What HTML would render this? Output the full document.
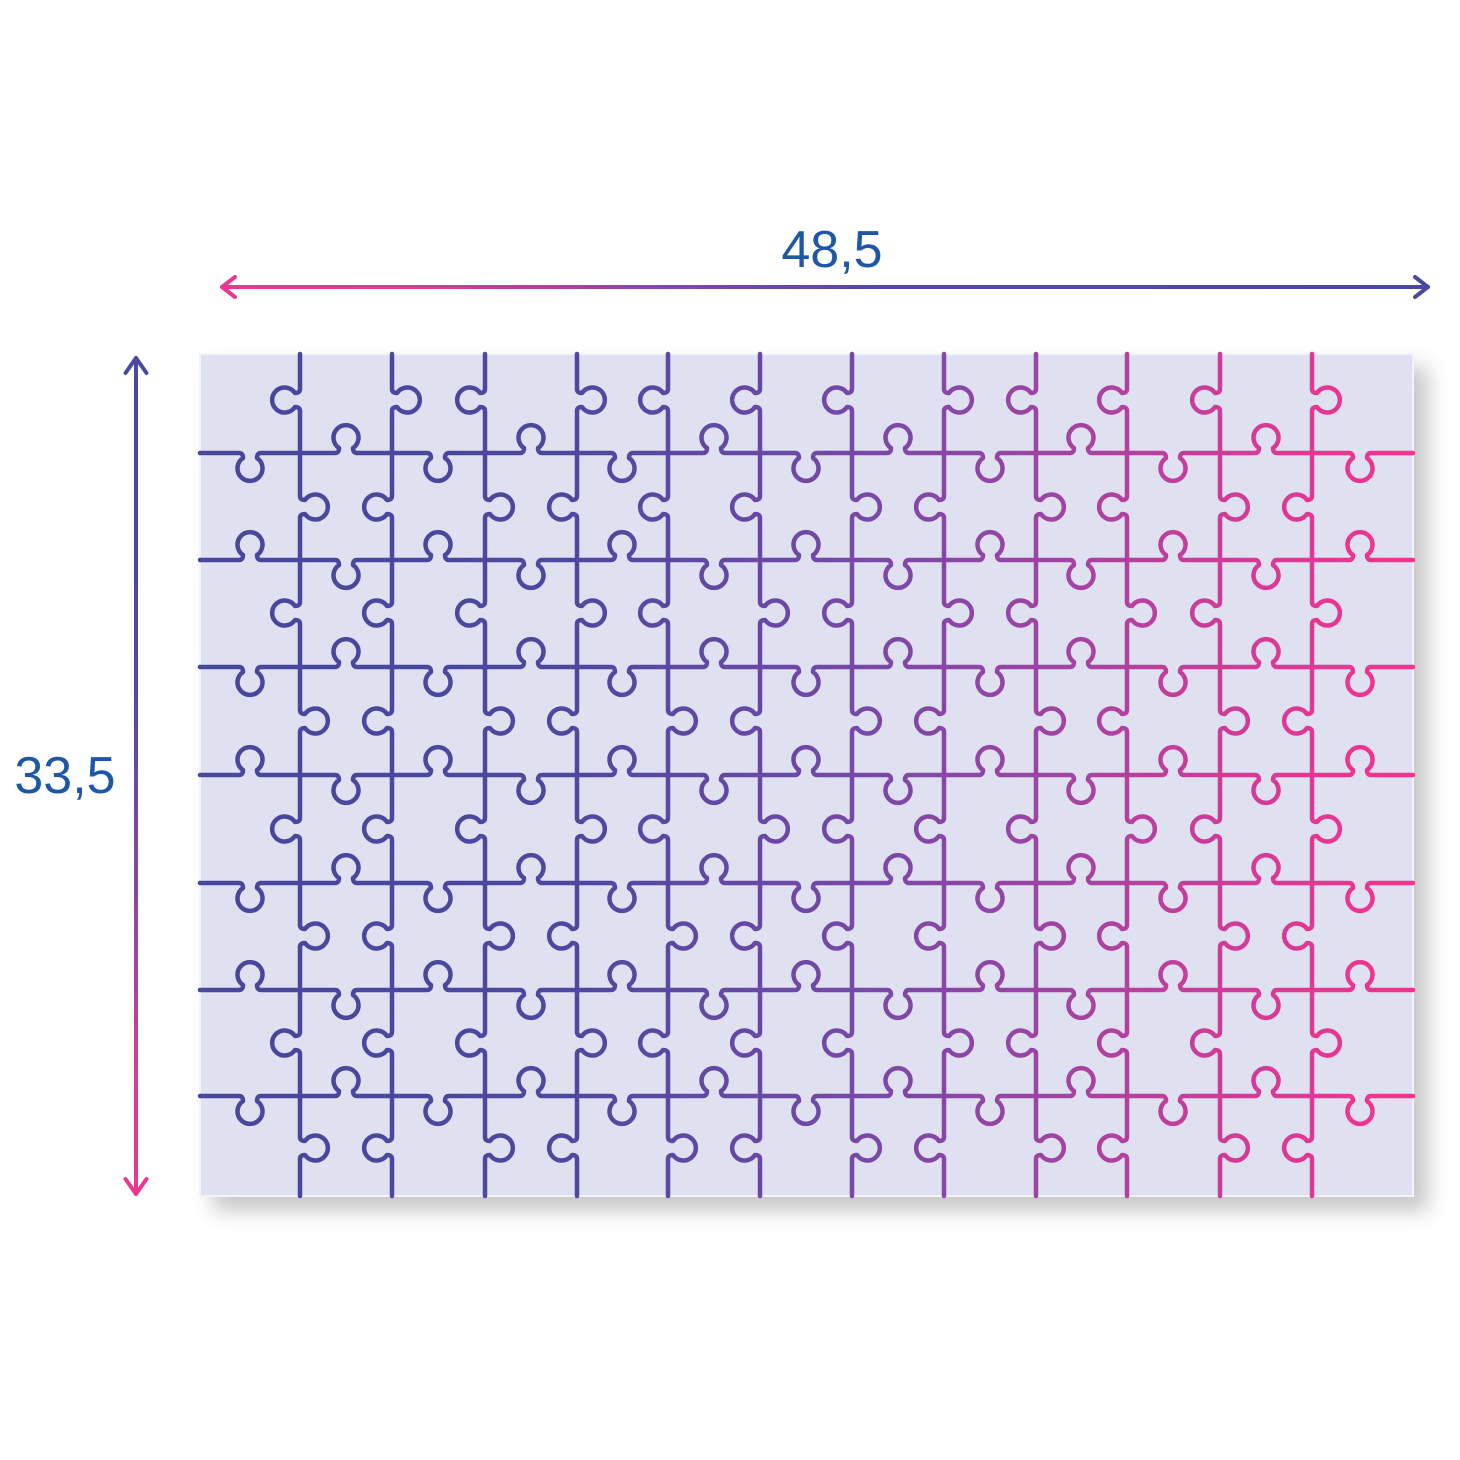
<!DOCTYPE html>
<html>
<head>
<meta charset="utf-8">
<style>
html,body{margin:0;padding:0;background:#ffffff;}
svg{display:block;}
text{font-family:"Liberation Sans",sans-serif;}
</style>
</head>
<body>
<svg width="1460" height="1460" viewBox="0 0 1460 1460" xmlns="http://www.w3.org/2000/svg">
<defs>
<linearGradient id="pz" gradientUnits="userSpaceOnUse" x1="200" y1="0" x2="1413" y2="0">
<stop offset="0" stop-color="#47479c"/>
<stop offset="0.3" stop-color="#4c489f"/>
<stop offset="0.55" stop-color="#7848a8"/>
<stop offset="0.7" stop-color="#9e44a3"/>
<stop offset="0.85" stop-color="#d13b98"/>
<stop offset="1" stop-color="#f7328d"/>
</linearGradient>
<linearGradient id="ta" gradientUnits="userSpaceOnUse" x1="222" y1="0" x2="1428" y2="0">
<stop offset="0" stop-color="#ef3690"/>
<stop offset="0.15" stop-color="#e03a93"/>
<stop offset="0.35" stop-color="#8c46a8"/>
<stop offset="0.55" stop-color="#5548a2"/>
<stop offset="1" stop-color="#4a48a0"/>
</linearGradient>
<linearGradient id="va" gradientUnits="userSpaceOnUse" x1="0" y1="358" x2="0" y2="1194">
<stop offset="0" stop-color="#4a48a0"/>
<stop offset="0.4" stop-color="#5248a2"/>
<stop offset="0.65" stop-color="#8e45a8"/>
<stop offset="0.85" stop-color="#d83c95"/>
<stop offset="1" stop-color="#ef3590"/>
</linearGradient>
<filter id="sh" x="-10%" y="-10%" width="125%" height="130%">
<feDropShadow dx="14" dy="14" stdDeviation="10" flood-color="#000" flood-opacity="0.22"/>
</filter>
</defs>

<!-- dimension text -->
<text x="832" y="267" font-size="52" fill="#1f57a8" text-anchor="middle">48,5</text>
<text x="65" y="793" font-size="52" fill="#1f57a8" text-anchor="middle">33,5</text>

<!-- top arrow -->
<g fill="none" stroke="url(#ta)" stroke-width="4" stroke-linecap="round" stroke-linejoin="round">
<path d="M222 287H1428"/>
<path d="M235 277L222 287L235 297"/>
<path d="M1415 277L1428 287L1415 297"/>
</g>
<!-- vertical arrow -->
<g fill="none" stroke="url(#va)" stroke-width="4" stroke-linecap="round" stroke-linejoin="round">
<path d="M136 358V1194"/>
<path d="M125.5 373L136 358L146.5 373"/>
<path d="M125.5 1179L136 1194L146.5 1179"/>
</g>

<!-- board -->
<rect x="200" y="354" width="1213" height="842" fill="#dfe1f1" stroke="#f3f4fa" stroke-width="2" filter="url(#sh)"/>

<g fill="none" stroke="url(#pz)" stroke-width="4.5" stroke-linecap="round" stroke-linejoin="round">
<!-- horizontal lines -->
<path d="M200 453H239q4 0 4 5a12.5 12.5 0 1 0 14 0q0-5 4-5H335q4 0 4-5a12.5 12.5 0 1 1 14 0q0 5 4 5H427q4 0 4 5a12.5 12.5 0 1 0 14 0q0-5 4-5H520q4 0 4-5a12.5 12.5 0 1 1 14 0q0 5 4 5H611q4 0 4 5a12.5 12.5 0 1 0 14 0q0-5 4-5H703q4 0 4-5a12.5 12.5 0 1 1 14 0q0 5 4 5H795q4 0 4 5a12.5 12.5 0 1 0 14 0q0-5 4-5H887q4 0 4-5a12.5 12.5 0 1 1 14 0q0 5 4 5H979q4 0 4 5a12.5 12.5 0 1 0 14 0q0-5 4-5H1070q4 0 4-5a12.5 12.5 0 1 1 14 0q0 5 4 5H1162q4 0 4 5a12.5 12.5 0 1 0 14 0q0-5 4-5H1255q4 0 4-5a12.5 12.5 0 1 1 14 0q0 5 4 5H1349q4 0 4 5a12.5 12.5 0 1 0 14 0q0-5 4-5H1413"/>
<path d="M200 560H239q4 0 4-5a12.5 12.5 0 1 1 14 0q0 5 4 5H335q4 0 4 5a12.5 12.5 0 1 0 14 0q0-5 4-5H427q4 0 4-5a12.5 12.5 0 1 1 14 0q0 5 4 5H520q4 0 4 5a12.5 12.5 0 1 0 14 0q0-5 4-5H611q4 0 4-5a12.5 12.5 0 1 1 14 0q0 5 4 5H703q4 0 4 5a12.5 12.5 0 1 0 14 0q0-5 4-5H795q4 0 4-5a12.5 12.5 0 1 1 14 0q0 5 4 5H887q4 0 4 5a12.5 12.5 0 1 0 14 0q0-5 4-5H979q4 0 4-5a12.5 12.5 0 1 1 14 0q0 5 4 5H1070q4 0 4 5a12.5 12.5 0 1 0 14 0q0-5 4-5H1162q4 0 4-5a12.5 12.5 0 1 1 14 0q0 5 4 5H1255q4 0 4 5a12.5 12.5 0 1 0 14 0q0-5 4-5H1349q4 0 4-5a12.5 12.5 0 1 1 14 0q0 5 4 5H1413"/>
<path d="M200 667H239q4 0 4 5a12.5 12.5 0 1 0 14 0q0-5 4-5H335q4 0 4-5a12.5 12.5 0 1 1 14 0q0 5 4 5H427q4 0 4 5a12.5 12.5 0 1 0 14 0q0-5 4-5H520q4 0 4-5a12.5 12.5 0 1 1 14 0q0 5 4 5H611q4 0 4 5a12.5 12.5 0 1 0 14 0q0-5 4-5H703q4 0 4-5a12.5 12.5 0 1 1 14 0q0 5 4 5H795q4 0 4 5a12.5 12.5 0 1 0 14 0q0-5 4-5H887q4 0 4-5a12.5 12.5 0 1 1 14 0q0 5 4 5H979q4 0 4 5a12.5 12.5 0 1 0 14 0q0-5 4-5H1070q4 0 4-5a12.5 12.5 0 1 1 14 0q0 5 4 5H1162q4 0 4 5a12.5 12.5 0 1 0 14 0q0-5 4-5H1255q4 0 4-5a12.5 12.5 0 1 1 14 0q0 5 4 5H1349q4 0 4 5a12.5 12.5 0 1 0 14 0q0-5 4-5H1413"/>
<path d="M200 775H239q4 0 4-5a12.5 12.5 0 1 1 14 0q0 5 4 5H335q4 0 4 5a12.5 12.5 0 1 0 14 0q0-5 4-5H427q4 0 4-5a12.5 12.5 0 1 1 14 0q0 5 4 5H520q4 0 4 5a12.5 12.5 0 1 0 14 0q0-5 4-5H611q4 0 4-5a12.5 12.5 0 1 1 14 0q0 5 4 5H703q4 0 4 5a12.5 12.5 0 1 0 14 0q0-5 4-5H795q4 0 4-5a12.5 12.5 0 1 1 14 0q0 5 4 5H887q4 0 4 5a12.5 12.5 0 1 0 14 0q0-5 4-5H979q4 0 4-5a12.5 12.5 0 1 1 14 0q0 5 4 5H1070q4 0 4 5a12.5 12.5 0 1 0 14 0q0-5 4-5H1162q4 0 4-5a12.5 12.5 0 1 1 14 0q0 5 4 5H1255q4 0 4 5a12.5 12.5 0 1 0 14 0q0-5 4-5H1349q4 0 4-5a12.5 12.5 0 1 1 14 0q0 5 4 5H1413"/>
<path d="M200 883H239q4 0 4 5a12.5 12.5 0 1 0 14 0q0-5 4-5H335q4 0 4-5a12.5 12.5 0 1 1 14 0q0 5 4 5H427q4 0 4 5a12.5 12.5 0 1 0 14 0q0-5 4-5H520q4 0 4-5a12.5 12.5 0 1 1 14 0q0 5 4 5H611q4 0 4 5a12.5 12.5 0 1 0 14 0q0-5 4-5H703q4 0 4-5a12.5 12.5 0 1 1 14 0q0 5 4 5H795q4 0 4 5a12.5 12.5 0 1 0 14 0q0-5 4-5H887q4 0 4-5a12.5 12.5 0 1 1 14 0q0 5 4 5H979q4 0 4 5a12.5 12.5 0 1 0 14 0q0-5 4-5H1070q4 0 4-5a12.5 12.5 0 1 1 14 0q0 5 4 5H1162q4 0 4 5a12.5 12.5 0 1 0 14 0q0-5 4-5H1255q4 0 4-5a12.5 12.5 0 1 1 14 0q0 5 4 5H1349q4 0 4 5a12.5 12.5 0 1 0 14 0q0-5 4-5H1413"/>
<path d="M200 990H239q4 0 4-5a12.5 12.5 0 1 1 14 0q0 5 4 5H335q4 0 4 5a12.5 12.5 0 1 0 14 0q0-5 4-5H427q4 0 4-5a12.5 12.5 0 1 1 14 0q0 5 4 5H520q4 0 4 5a12.5 12.5 0 1 0 14 0q0-5 4-5H611q4 0 4-5a12.5 12.5 0 1 1 14 0q0 5 4 5H703q4 0 4 5a12.5 12.5 0 1 0 14 0q0-5 4-5H795q4 0 4-5a12.5 12.5 0 1 1 14 0q0 5 4 5H887q4 0 4 5a12.5 12.5 0 1 0 14 0q0-5 4-5H979q4 0 4-5a12.5 12.5 0 1 1 14 0q0 5 4 5H1070q4 0 4 5a12.5 12.5 0 1 0 14 0q0-5 4-5H1162q4 0 4-5a12.5 12.5 0 1 1 14 0q0 5 4 5H1255q4 0 4 5a12.5 12.5 0 1 0 14 0q0-5 4-5H1349q4 0 4-5a12.5 12.5 0 1 1 14 0q0 5 4 5H1413"/>
<path d="M200 1096H239q4 0 4 5a12.5 12.5 0 1 0 14 0q0-5 4-5H335q4 0 4-5a12.5 12.5 0 1 1 14 0q0 5 4 5H427q4 0 4 5a12.5 12.5 0 1 0 14 0q0-5 4-5H520q4 0 4-5a12.5 12.5 0 1 1 14 0q0 5 4 5H611q4 0 4 5a12.5 12.5 0 1 0 14 0q0-5 4-5H703q4 0 4-5a12.5 12.5 0 1 1 14 0q0 5 4 5H795q4 0 4 5a12.5 12.5 0 1 0 14 0q0-5 4-5H887q4 0 4-5a12.5 12.5 0 1 1 14 0q0 5 4 5H979q4 0 4 5a12.5 12.5 0 1 0 14 0q0-5 4-5H1070q4 0 4-5a12.5 12.5 0 1 1 14 0q0 5 4 5H1162q4 0 4 5a12.5 12.5 0 1 0 14 0q0-5 4-5H1255q4 0 4-5a12.5 12.5 0 1 1 14 0q0 5 4 5H1349q4 0 4 5a12.5 12.5 0 1 0 14 0q0-5 4-5H1413"/>

<!-- vertical lines -->
<!-- V1 300: L R L R L R L R -->
<path d="M300 354V389q0 4-5 4a12.5 12.5 0 1 0 0 14q5 0 5 4V496q0 4 5 4a12.5 12.5 0 1 1 0 14q-5 0-5 4V602q0 4-5 4a12.5 12.5 0 1 0 0 14q5 0 5 4V710q0 4 5 4a12.5 12.5 0 1 1 0 14q-5 0-5 4V818q0 4-5 4a12.5 12.5 0 1 0 0 14q5 0 5 4V925q0 4 5 4a12.5 12.5 0 1 1 0 14q-5 0-5 4V1032q0 4-5 4a12.5 12.5 0 1 0 0 14q5 0 5 4V1137q0 4 5 4a12.5 12.5 0 1 1 0 14q-5 0-5 4V1196"/>
<!-- V2 392: R L L L L L L L -->
<path d="M392 354V389q0 4 5 4a12.5 12.5 0 1 1 0 14q-5 0-5 4V496q0 4-5 4a12.5 12.5 0 1 0 0 14q5 0 5 4V602q0 4-5 4a12.5 12.5 0 1 0 0 14q5 0 5 4V710q0 4-5 4a12.5 12.5 0 1 0 0 14q5 0 5 4V818q0 4-5 4a12.5 12.5 0 1 0 0 14q5 0 5 4V925q0 4-5 4a12.5 12.5 0 1 0 0 14q5 0 5 4V1032q0 4-5 4a12.5 12.5 0 1 0 0 14q5 0 5 4V1137q0 4-5 4a12.5 12.5 0 1 0 0 14q5 0 5 4V1196"/>
<!-- V3 485: L R L R L R L R -->
<path d="M485 354V389q0 4-5 4a12.5 12.5 0 1 0 0 14q5 0 5 4V496q0 4 5 4a12.5 12.5 0 1 1 0 14q-5 0-5 4V602q0 4-5 4a12.5 12.5 0 1 0 0 14q5 0 5 4V710q0 4 5 4a12.5 12.5 0 1 1 0 14q-5 0-5 4V818q0 4-5 4a12.5 12.5 0 1 0 0 14q5 0 5 4V925q0 4 5 4a12.5 12.5 0 1 1 0 14q-5 0-5 4V1032q0 4-5 4a12.5 12.5 0 1 0 0 14q5 0 5 4V1137q0 4 5 4a12.5 12.5 0 1 1 0 14q-5 0-5 4V1196"/>
<!-- V4 577: R L R L R L R L -->
<path d="M577 354V389q0 4 5 4a12.5 12.5 0 1 1 0 14q-5 0-5 4V496q0 4-5 4a12.5 12.5 0 1 0 0 14q5 0 5 4V602q0 4 5 4a12.5 12.5 0 1 1 0 14q-5 0-5 4V710q0 4-5 4a12.5 12.5 0 1 0 0 14q5 0 5 4V818q0 4 5 4a12.5 12.5 0 1 1 0 14q-5 0-5 4V925q0 4-5 4a12.5 12.5 0 1 0 0 14q5 0 5 4V1032q0 4 5 4a12.5 12.5 0 1 1 0 14q-5 0-5 4V1137q0 4-5 4a12.5 12.5 0 1 0 0 14q5 0 5 4V1196"/>
<!-- V5 668: L L L R L R L R -->
<path d="M668 354V389q0 4-5 4a12.5 12.5 0 1 0 0 14q5 0 5 4V496q0 4-5 4a12.5 12.5 0 1 0 0 14q5 0 5 4V602q0 4-5 4a12.5 12.5 0 1 0 0 14q5 0 5 4V710q0 4 5 4a12.5 12.5 0 1 1 0 14q-5 0-5 4V818q0 4-5 4a12.5 12.5 0 1 0 0 14q5 0 5 4V925q0 4 5 4a12.5 12.5 0 1 1 0 14q-5 0-5 4V1032q0 4-5 4a12.5 12.5 0 1 0 0 14q5 0 5 4V1137q0 4 5 4a12.5 12.5 0 1 1 0 14q-5 0-5 4V1196"/>
<!-- V6 760: L L R L R L L L -->
<path d="M760 354V389q0 4-5 4a12.5 12.5 0 1 0 0 14q5 0 5 4V496q0 4-5 4a12.5 12.5 0 1 0 0 14q5 0 5 4V602q0 4 5 4a12.5 12.5 0 1 1 0 14q-5 0-5 4V710q0 4-5 4a12.5 12.5 0 1 0 0 14q5 0 5 4V818q0 4 5 4a12.5 12.5 0 1 1 0 14q-5 0-5 4V925q0 4-5 4a12.5 12.5 0 1 0 0 14q5 0 5 4V1032q0 4-5 4a12.5 12.5 0 1 0 0 14q5 0 5 4V1137q0 4-5 4a12.5 12.5 0 1 0 0 14q5 0 5 4V1196"/>
<!-- V7 852: L R L R L L L R -->
<path d="M852 354V389q0 4-5 4a12.5 12.5 0 1 0 0 14q5 0 5 4V496q0 4 5 4a12.5 12.5 0 1 1 0 14q-5 0-5 4V602q0 4-5 4a12.5 12.5 0 1 0 0 14q5 0 5 4V710q0 4 5 4a12.5 12.5 0 1 1 0 14q-5 0-5 4V818q0 4-5 4a12.5 12.5 0 1 0 0 14q5 0 5 4V925q0 4-5 4a12.5 12.5 0 1 0 0 14q5 0 5 4V1032q0 4-5 4a12.5 12.5 0 1 0 0 14q5 0 5 4V1137q0 4 5 4a12.5 12.5 0 1 1 0 14q-5 0-5 4V1196"/>
<!-- V8 944: R L R L L L R L -->
<path d="M944 354V389q0 4 5 4a12.5 12.5 0 1 1 0 14q-5 0-5 4V496q0 4-5 4a12.5 12.5 0 1 0 0 14q5 0 5 4V602q0 4 5 4a12.5 12.5 0 1 1 0 14q-5 0-5 4V710q0 4-5 4a12.5 12.5 0 1 0 0 14q5 0 5 4V818q0 4-5 4a12.5 12.5 0 1 0 0 14q5 0 5 4V925q0 4-5 4a12.5 12.5 0 1 0 0 14q5 0 5 4V1032q0 4 5 4a12.5 12.5 0 1 1 0 14q-5 0-5 4V1137q0 4-5 4a12.5 12.5 0 1 0 0 14q5 0 5 4V1196"/>
<!-- V9 1036: L R L R L R L R -->
<path d="M1036 354V389q0 4-5 4a12.5 12.5 0 1 0 0 14q5 0 5 4V496q0 4 5 4a12.5 12.5 0 1 1 0 14q-5 0-5 4V602q0 4-5 4a12.5 12.5 0 1 0 0 14q5 0 5 4V710q0 4 5 4a12.5 12.5 0 1 1 0 14q-5 0-5 4V818q0 4-5 4a12.5 12.5 0 1 0 0 14q5 0 5 4V925q0 4 5 4a12.5 12.5 0 1 1 0 14q-5 0-5 4V1032q0 4-5 4a12.5 12.5 0 1 0 0 14q5 0 5 4V1137q0 4 5 4a12.5 12.5 0 1 1 0 14q-5 0-5 4V1196"/>
<!-- V10 1127: L L R L R L L L -->
<path d="M1127 354V389q0 4-5 4a12.5 12.5 0 1 0 0 14q5 0 5 4V496q0 4-5 4a12.5 12.5 0 1 0 0 14q5 0 5 4V602q0 4 5 4a12.5 12.5 0 1 1 0 14q-5 0-5 4V710q0 4-5 4a12.5 12.5 0 1 0 0 14q5 0 5 4V818q0 4 5 4a12.5 12.5 0 1 1 0 14q-5 0-5 4V925q0 4-5 4a12.5 12.5 0 1 0 0 14q5 0 5 4V1032q0 4-5 4a12.5 12.5 0 1 0 0 14q5 0 5 4V1137q0 4-5 4a12.5 12.5 0 1 0 0 14q5 0 5 4V1196"/>
<!-- V11 1220: L R L R L R L R -->
<path d="M1220 354V389q0 4-5 4a12.5 12.5 0 1 0 0 14q5 0 5 4V496q0 4 5 4a12.5 12.5 0 1 1 0 14q-5 0-5 4V602q0 4-5 4a12.5 12.5 0 1 0 0 14q5 0 5 4V710q0 4 5 4a12.5 12.5 0 1 1 0 14q-5 0-5 4V818q0 4-5 4a12.5 12.5 0 1 0 0 14q5 0 5 4V925q0 4 5 4a12.5 12.5 0 1 1 0 14q-5 0-5 4V1032q0 4-5 4a12.5 12.5 0 1 0 0 14q5 0 5 4V1137q0 4 5 4a12.5 12.5 0 1 1 0 14q-5 0-5 4V1196"/>
<!-- V12 1312: R L R L R L R L -->
<path d="M1312 354V389q0 4 5 4a12.5 12.5 0 1 1 0 14q-5 0-5 4V496q0 4-5 4a12.5 12.5 0 1 0 0 14q5 0 5 4V602q0 4 5 4a12.5 12.5 0 1 1 0 14q-5 0-5 4V710q0 4-5 4a12.5 12.5 0 1 0 0 14q5 0 5 4V818q0 4 5 4a12.5 12.5 0 1 1 0 14q-5 0-5 4V925q0 4-5 4a12.5 12.5 0 1 0 0 14q5 0 5 4V1032q0 4 5 4a12.5 12.5 0 1 1 0 14q-5 0-5 4V1137q0 4-5 4a12.5 12.5 0 1 0 0 14q5 0 5 4V1196"/>
</g>
</svg>
</body>
</html>
